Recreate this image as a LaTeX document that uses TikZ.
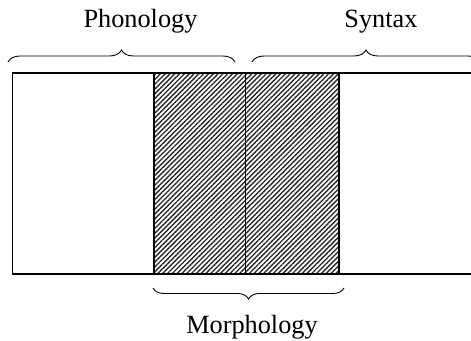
\documentclass[tikz,border=0pt]{standalone}
\usepackage{fontspec}
\setmainfont{Liberation Serif}
\usetikzlibrary{decorations.pathreplacing,patterns.meta}
\begin{document}
\begin{tikzpicture}[x=1pt,y=1pt,
  lbl/.style={anchor=base,inner sep=0pt,font=\fontsize{26.3}{30}\selectfont},
  brc/.style={decorate,decoration={brace,amplitude=12pt},line width=0.9pt},
  box/.style={draw=black,line width=1.4pt},
  hatch/.style={pattern={Lines[angle=45,distance=3.4pt,line width=1.35pt]},pattern color=black!85}]
\useasboundingbox (0,0) rectangle (471,340);
\clip (0,0) rectangle (471,340);
\fill[white] (0,0) rectangle (471,340);
% hatched parts
\fill[hatch] (154,66) rectangle (339,267);
\draw[box] (154,66) -- (154,267);
\draw[box] (245.5,66) -- (245.5,267);
\draw[box] (339,66) -- (339,267);
% outer rectangle
\draw[box] (500,267) -- (12.5,267) -- (12.5,66) -- (500,66);
% braces
\coordinate (pl) at (8,278);
\coordinate (pr) at (235,278);
\coordinate (sl) at (252,278);
\coordinate (sr) at (480,278);
\coordinate (ml) at (153,52);
\coordinate (mr) at (344,52);
\draw[brc] (pl) -- (pr);
\draw[brc] (sl) -- (sr);
\draw[brc,decoration={brace,amplitude=11pt}] (mr) -- (ml);
\node[lbl] (phon) at (140.5,312) {Phonology};
\node[lbl] (syn) at (381,312) {Syntax};
\node[lbl] (morph) at (252,7) {Morphology};
\end{tikzpicture}
\end{document}
